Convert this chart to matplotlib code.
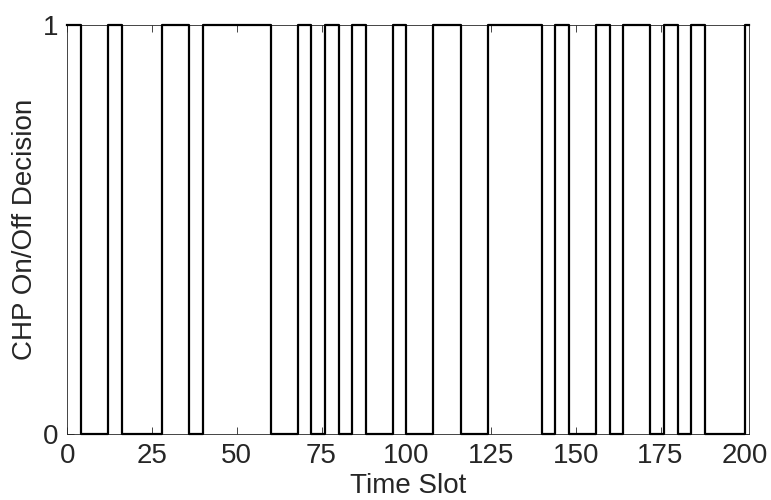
import matplotlib
matplotlib.use("Agg")
import matplotlib.pyplot as plt

# Time slots at which the CHP decision switches, and the decision from that slot on
switch_slots = [0, 4, 12, 16, 28, 36, 40, 60, 68, 72, 76, 80, 84, 88, 96, 100,
                108, 116, 124, 140, 144, 148, 156, 160, 164, 172, 176, 180, 184,
                188, 200, 201]
switch_values = [1, 0, 1, 0, 1, 0, 1, 0, 1, 0, 1, 0, 1, 0, 1, 0,
                 1, 0, 1, 0, 1, 0, 1, 0, 1, 0, 1, 0, 1,
                 0, 1, 1]
x_ticks = [0, 25, 50, 75, 100, 125, 150, 175, 200]
y_ticks = [0, 1]

plt.rcParams['font.family'] = ['Liberation Sans', 'DejaVu Sans']
txt = (0.15, 0.15, 0.15)
fs = 20

fig = plt.figure(figsize=(7.71, 5.0), dpi=100)
ax = fig.add_axes([67.3 / 771, 66 / 500, (748.7 - 67.3) / 771, (434 - 25) / 500])

ax.step(switch_slots, switch_values, where='post', color='black', lw=1.6,
        clip_on=False, zorder=3)

ax.set_xlim(0, 201)
ax.set_ylim(0, 1)
ax.set_xticks(x_ticks)
ax.set_yticks(y_ticks)
ax.tick_params(direction='in', length=5, width=0.6, colors=txt, labelsize=fs,
               top=True, right=True, pad=6.5)
for s in ax.spines.values():
    s.set_linewidth(0.6)
    s.set_color(txt)
ax.set_xlabel('Time Slot', fontsize=fs, color=txt, labelpad=3.0)
ax.set_ylabel('CHP On/Off Decision', fontsize=fs, color=txt, labelpad=3.5)

fig.savefig('out.png', dpi=100)
